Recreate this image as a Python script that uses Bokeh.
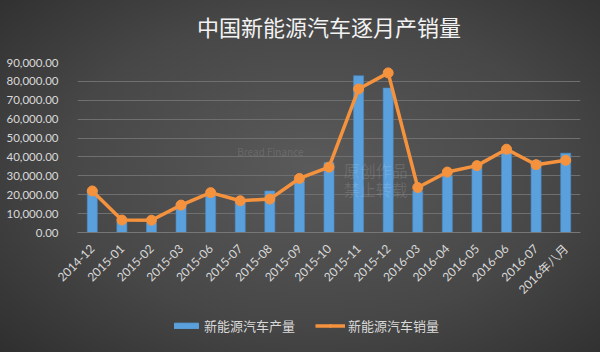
import math
from bokeh.plotting import figure
from bokeh.layouts import column
from bokeh.models import (FactorRange, Range1d, FixedTicker, NumeralTickFormatter,
                          Legend, LegendItem, Label, ColumnDataSource)
from bokeh.embed import file_html
from bokeh.resources import INLINE

months = ["2014-12", "2015-01", "2015-02", "2015-03", "2015-06", "2015-07",
          "2015-08", "2015-09", "2015-10", "2015-11", "2015-12", "2016-03",
          "2016-04", "2016-05", "2016-06", "2016-07", "2016年八月"]
production = [22500, 5500, 5000, 15500, 20500, 16000, 22000, 27000, 37000,
              83000, 76500, 22000, 30000, 34000, 42500, 38000, 42000]
sales = [22000, 6600, 6500, 14500, 21100, 16800, 17700, 28600, 34600,
         76000, 84500, 23800, 32000, 35400, 44100, 35900, 38200]
y_ticks = [0, 10000, 20000, 30000, 40000, 50000, 60000, 70000, 80000, 90000]

title_text = "中国新能源汽车逐月产销量"
prod_label = "新能源汽车产量"
sales_label = "新能源汽车销量"

FONT = "Lato, 'Noto Sans CJK SC'"
CJK = "'Noto Sans CJK SC'"
TXT = "#d9d9d9"
BLUE = "#5aa0dc"
ORANGE = "#f5923e"


def strip(h):
    f = figure(width=600, height=h, x_range=Range1d(0, 1), y_range=Range1d(0, 1),
               output_backend="svg", toolbar_location=None, x_axis_type=None,
               y_axis_type=None, min_border=0)
    f.background_fill_color = None
    f.border_fill_color = None
    f.outline_line_color = None
    f.grid.grid_line_color = None
    return f


# title strip
tt = strip(50)
tt.add_layout(Label(x=0.5, y=0.5, text=title_text, text_align="center",
                    text_baseline="middle", text_font=CJK, text_font_size="22px",
                    text_color="#f2f2f2"))

src = ColumnDataSource(dict(month=months, production=production, sales=sales))

p = figure(width=600, height=255, x_range=FactorRange(*months),
           y_range=Range1d(0, 90000), output_backend="svg",
           toolbar_location=None, min_border_left=77, min_border_right=20,
           min_border_top=12, min_border_bottom=70)
p.background_fill_color = None
p.border_fill_color = None
p.outline_line_color = None

bars = p.vbar(x="month", top="production", width=0.34, source=src,
              fill_color=BLUE, line_color="#4a8cc8", line_width=0.6)
line = p.line(x="month", y="sales", source=src, line_color=ORANGE, line_width=3.5)
dots = p.scatter(x="month", y="sales", source=src, size=10, fill_color=ORANGE,
                 line_color=ORANGE)

p.xgrid.grid_line_color = None
p.ygrid.grid_line_color = "#6f6f6f"
p.ygrid.grid_line_width = 1
p.ygrid.ticker = FixedTicker(ticks=y_ticks)

p.yaxis.ticker = FixedTicker(ticks=y_ticks)
p.yaxis.formatter = NumeralTickFormatter(format="0,0.00")
p.yaxis.axis_line_color = None
p.yaxis.major_tick_line_color = None
p.yaxis.minor_tick_line_color = None
p.yaxis.major_label_standoff = 13
p.yaxis.major_label_text_font = FONT
p.yaxis.major_label_text_font_size = "11.5px"
p.yaxis.major_label_text_color = TXT

p.xaxis.axis_line_color = "#777777"
p.xaxis.major_tick_line_color = None
p.xaxis.minor_tick_line_color = None
p.xaxis.major_label_orientation = math.pi / 4
p.xaxis.major_label_standoff = 8
p.xaxis.major_label_text_font = FONT
p.xaxis.major_label_text_font_size = "12px"
p.xaxis.major_label_text_color = TXT

# faint watermark
for txt, xx, yy, fs in [("Bread Finance", 5.4, 39000, "10px"),
                        ("原创作品", 9.0, 27000, "16px"),
                        ("禁止转载", 9.0, 16500, "16px")]:
    p.add_layout(Label(x=xx, y=yy, text=txt, text_font=CJK,
                       text_font_size=fs, text_color="#ffffff", text_alpha=0.13))

# legend strip (swatch glyphs use points outside the visible range)
lg = strip(47)
off = ColumnDataSource(dict(x=[-10.0], y=[-10.0], top=[-10.0]))
lb = lg.vbar(x="x", top="top", width=0.3, source=off, fill_color=BLUE, line_color=BLUE)
ll = lg.line(x="x", y="y", source=off, line_color=ORANGE, line_width=3.5)
ld = lg.scatter(x="x", y="y", source=off, size=10, fill_color=ORANGE, line_color=ORANGE)

legend = Legend(items=[LegendItem(label=prod_label, renderers=[lb]),
                       LegendItem(label=sales_label, renderers=[ll, ld])],
                orientation="horizontal", location=(94, 17))
legend.background_fill_alpha = 0
legend.border_line_color = None
legend.label_text_color = TXT
legend.label_text_font = CJK
legend.label_text_font_size = "13px"
legend.glyph_width = 30
legend.glyph_height = 7
legend.spacing = 20
legend.label_standoff = 3
legend.padding = 5
legend.margin = 0
lg.add_layout(legend)

layout = column(tt, p, lg, spacing=0)
layout.styles = {"background": "radial-gradient(ellipse 75% 80% at 52% 48%, #5a5a5a 0%, #474747 55%, #2c2c2c 100%)"}

open("out.html", "w").write(file_html(layout, INLINE))
